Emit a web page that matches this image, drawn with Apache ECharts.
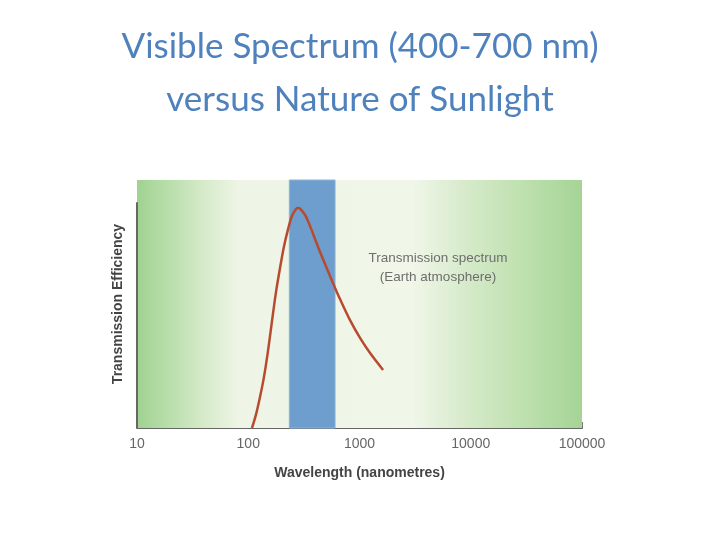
<!DOCTYPE html>
<html>
<head>
<meta charset="utf-8">
<script src="https://cdn.jsdelivr.net/npm/echarts@6/dist/echarts.min.js"></script>
<style>
  html, body { margin: 0; padding: 0; background: #fff; }
  #chart { width: 720px; height: 540px; }
</style>
</head>
<body>
<div id="chart"></div>
<script>
// transmission curve (wavelength nm, relative efficiency)
const wavelengths = [108, 117, 127, 138, 150, 163, 177, 193, 209, 228, 247, 269, 280, 292, 324, 359, 398, 442, 490, 543, 603, 668, 822, 1011, 1244, 1629]
const efficiency = [0, 0.052, 0.121, 0.202, 0.306, 0.427, 0.544, 0.645, 0.730, 0.802, 0.855, 0.883, 0.887, 0.885, 0.859, 0.815, 0.762, 0.710, 0.661, 0.613, 0.565, 0.520, 0.435, 0.363, 0.302, 0.234]
const visibleBand = [234, 603]
const xRange = [10, 100000]
const yAxisTop = 0.91

const chart = echarts.init(document.getElementById('chart'))

const greenFade = new echarts.graphic.LinearGradient(0, 0, 1, 0, [
  { offset: 0, color: 'rgb(160,210,145)' },
  { offset: 0.07, color: 'rgb(184,222,170)' },
  { offset: 0.15, color: 'rgb(214,234,202)' },
  { offset: 0.23, color: 'rgb(238,245,230)' },
  { offset: 0.62, color: 'rgb(240,246,232)' },
  { offset: 0.74, color: 'rgb(214,234,202)' },
  { offset: 0.88, color: 'rgb(188,223,172)' },
  { offset: 1, color: 'rgb(165,212,150)' }
])

chart.setOption({
  animation: false,
  title: {
    text: 'Visible Spectrum (400-700 nm)\nversus Nature of Sunlight',
    left: 'center',
    top: 15,
    textStyle: {
      fontFamily: 'Lato',
      fontWeight: 'normal',
      fontSize: 35,
      lineHeight: 53,
      color: 'rgb(79,129,189)'
    }
  },
  graphic: [{
    type: 'text',
    z: 100,
    style: {
      x: 438,
      y: 249,
      text: 'Transmission spectrum\n(Earth atmosphere)',
      align: 'center',
      verticalAlign: 'top',
      fill: '#6e6e6e',
      font: '13.5px "Liberation Sans", sans-serif',
      lineHeight: 19
    }
  }],
  grid: {
    left: 137,
    right: 138,
    top: 180,
    bottom: 112
  },
  xAxis: {
    type: 'log',
    logBase: 10,
    min: xRange[0],
    max: xRange[1],
    name: 'Wavelength (nanometres)',
    nameLocation: 'middle',
    nameGap: 38,
    nameTextStyle: {
      fontFamily: 'Liberation Sans',
      fontWeight: 'bold',
      fontSize: 14,
      color: '#444'
    },
    axisLine: { lineStyle: { color: '#666', width: 2 } },
    axisTick: { inside: true, length: 6, lineStyle: { color: '#555', width: 1.5 } },
    axisLabel: {
      margin: 9,
      fontFamily: 'Liberation Sans',
      fontSize: 14,
      color: '#666',
      formatter: v => String(Math.round(v))
    },
    splitLine: { show: false }
  },
  yAxis: {
    type: 'value',
    min: 0,
    max: 1,
    name: 'Transmission Efficiency',
    nameLocation: 'middle',
    nameGap: 12,
    nameRotate: 90,
    nameTextStyle: {
      fontFamily: 'Liberation Sans',
      fontWeight: 'bold',
      fontSize: 14,
      color: '#444'
    },
    axisLine: { show: false },
    axisTick: { show: false },
    axisLabel: { show: false },
    splitLine: { show: false }
  },
  series: [{
    type: 'line',
    data: wavelengths.map((w, i) => [w, efficiency[i]]),
    smooth: 0.3,
    showSymbol: false,
    clip: true,
    lineStyle: { color: 'rgb(184,74,48)', width: 2.5 },
    z: 5,
    markArea: {
      silent: true,
      data: [
        [{ xAxis: xRange[0], yAxis: 0, itemStyle: { color: greenFade } }, { xAxis: xRange[1], yAxis: 1 }],
        [{ xAxis: visibleBand[0], yAxis: 0, itemStyle: { color: 'rgb(110,158,206)', borderColor: 'rgb(140,180,218)', borderWidth: 1 } }, { xAxis: visibleBand[1], yAxis: 1 }]
      ]
    },
    markLine: {
      silent: true,
      symbol: 'none',
      label: { show: false },
      lineStyle: { color: '#666', width: 2, type: 'solid' },
      data: [[{ coord: [xRange[0], 0] }, { coord: [xRange[0], yAxisTop] }]]
    }
  }]
})
</script>
</body>
</html>
